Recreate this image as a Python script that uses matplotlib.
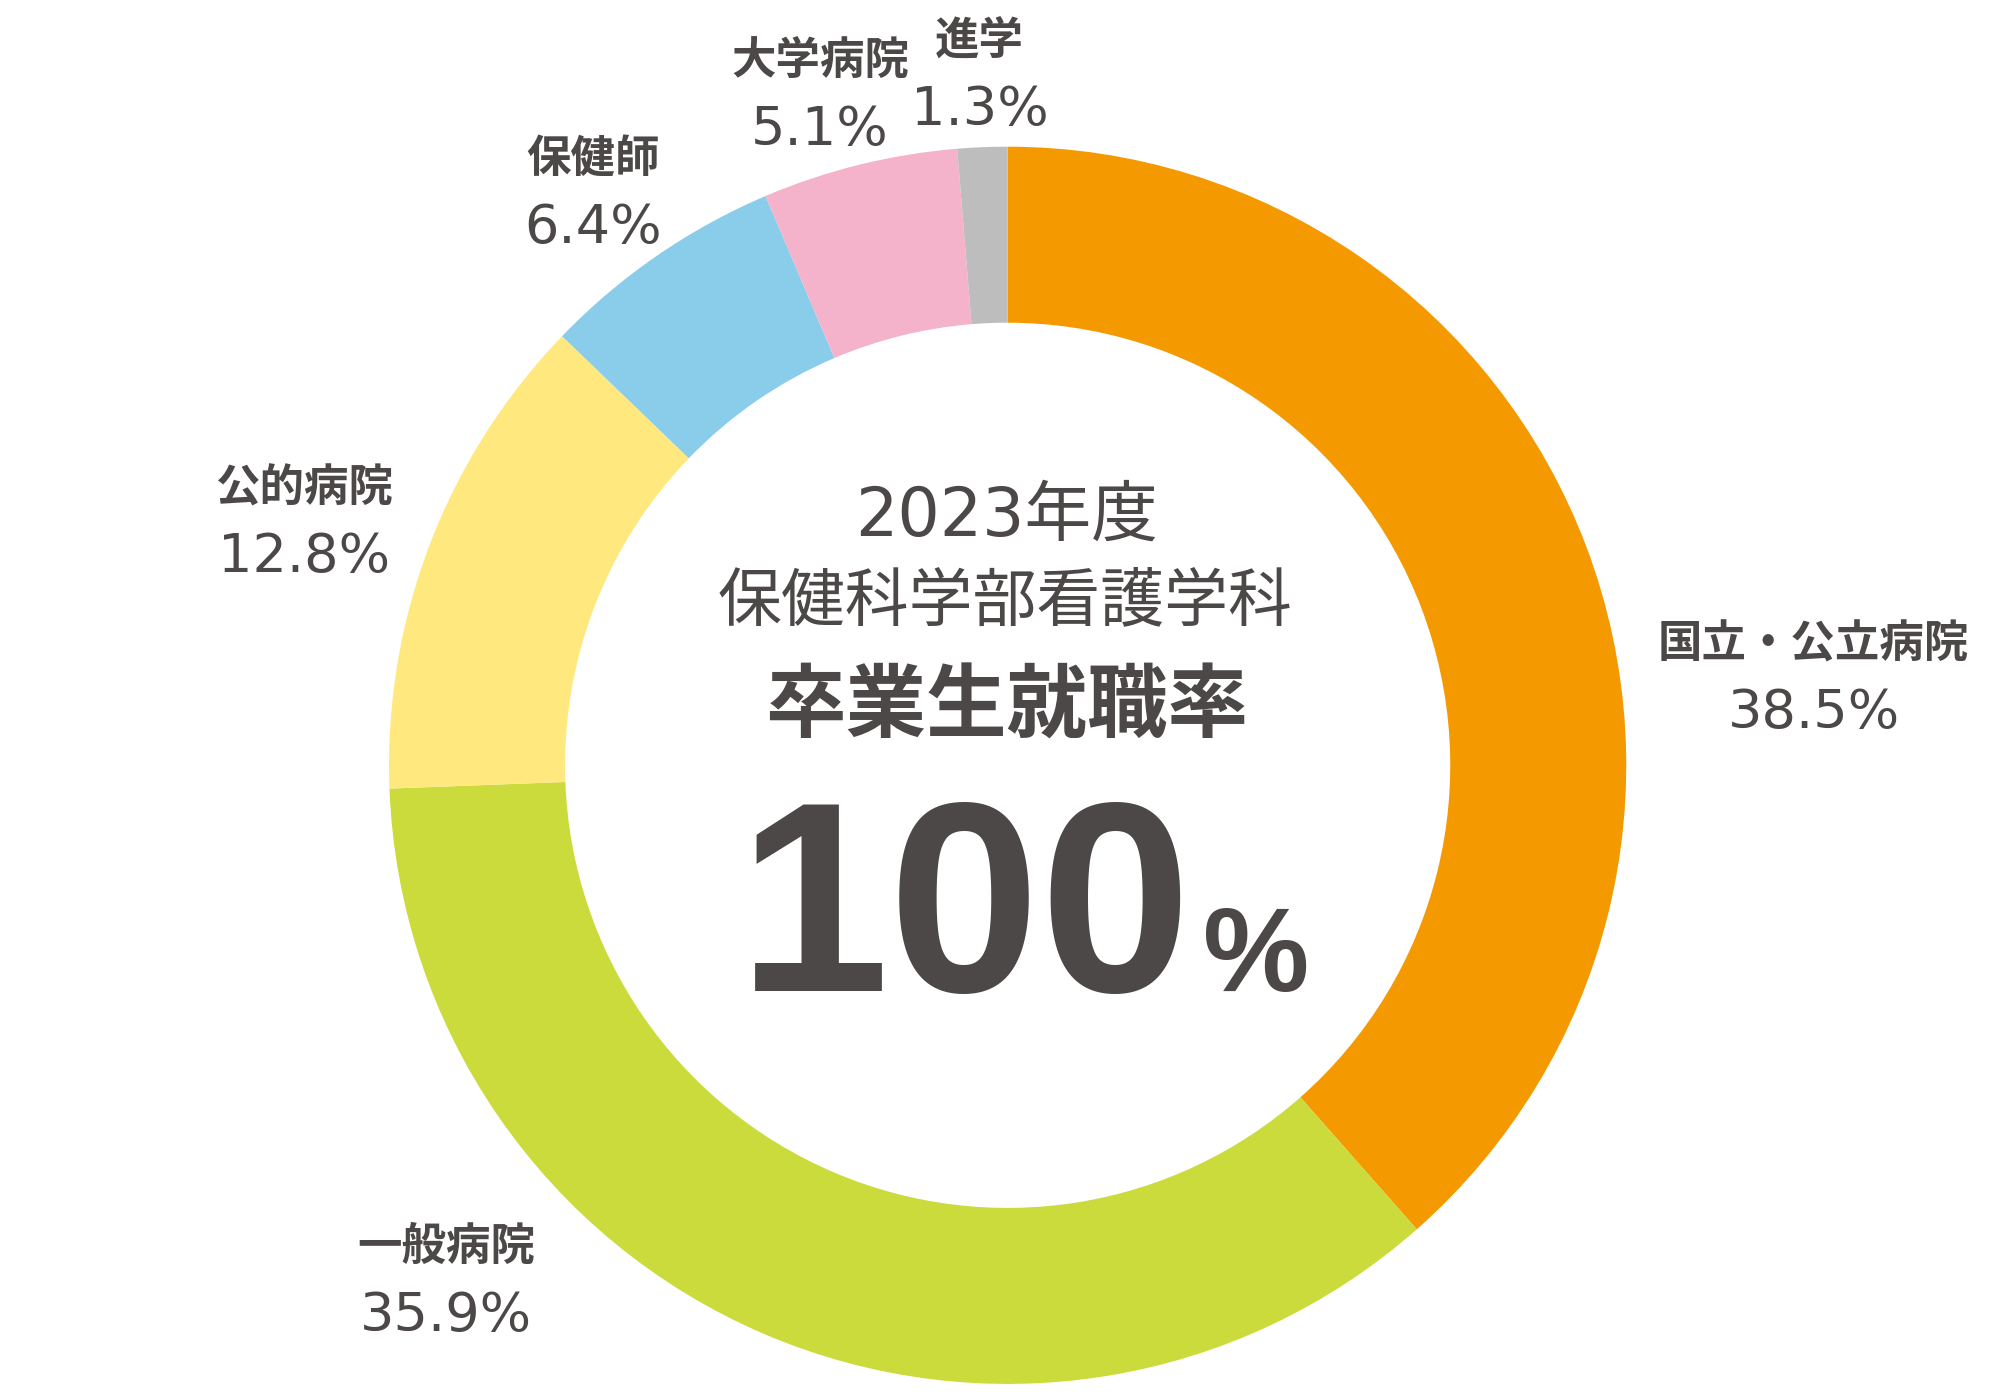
import matplotlib
matplotlib.use("Agg")
import matplotlib.pyplot as plt

# data
categories = ["国立・公立病院", "一般病院", "公的病院", "保健師", "大学病院", "進学"]
shares = [38.5, 35.9, 12.8, 6.4, 5.1, 1.3]
colors = ["#F49A00", "#CBDB3C", "#FFE97E", "#8ACDEA", "#F4B2CB", "#BDBDBD"]
pct_labels = ["38.5%", "35.9%", "12.8%", "6.4%", "5.1%", "1.3%"]

TXT = "#4D4848"
JP = "Noto Sans CJK JP"
NUM = ["DejaVu Sans", "Noto Sans CJK JP"]

W, H = 2000, 1400
s = W / 1568.0  # layout was measured on a 1568 px wide copy


def P(x, y):
    return x * s, H - y * s


fig = plt.figure(figsize=(20, 14), dpi=100)
ax = fig.add_axes([0, 0, 1, 1])

cx, cy = P(790, 600)
r_out = 485 * s
r_in = 347 * s
ax.pie(shares, colors=colors, startangle=90, counterclock=False,
       center=(cx, cy), radius=r_out, frame=True,
       wedgeprops=dict(width=r_out - r_in, linewidth=0))
ax.set_xlim(0, W)
ax.set_ylim(0, H)
ax.set_aspect("equal")
ax.axis("off")

# outside labels (name above, percentage below)
label_pos = [(1422, 505), (350, 978), (238, 383), (465, 125), (643, 48), (768, 32)]
for name, pct, (x, y) in zip(categories, pct_labels, label_pos):
    ax.text(*P(x, y), name, family=JP, fontsize=32, fontweight="bold",
            color=TXT, ha="center", va="center")
    ax.text(*P(x, y + 54), pct, family=NUM, fontsize=39,
            color=TXT, ha="center", va="center")

# centre text
ax.text(*P(789, 405), "2023年度", family=NUM, fontsize=48, color=TXT,
        ha="center", va="center")
ax.text(*P(788, 472), "保健科学部看護学科", family=JP, fontsize=46,
        color=TXT, ha="center", va="center")
ax.text(*P(789, 555), "卒業生就職率", family=JP, fontsize=58,
        fontweight="bold", color=TXT, ha="center", va="center")
ax.text(*P(935, 777), "100", family="Liberation Sans", fontsize=196,
        fontweight="bold", color=TXT, ha="right", va="baseline")
ax.text(*P(943, 777), "%", family="Liberation Sans", fontsize=86,
        fontweight="bold", color=TXT, ha="left", va="baseline")

fig.savefig("out.png", dpi=100, facecolor="white")
